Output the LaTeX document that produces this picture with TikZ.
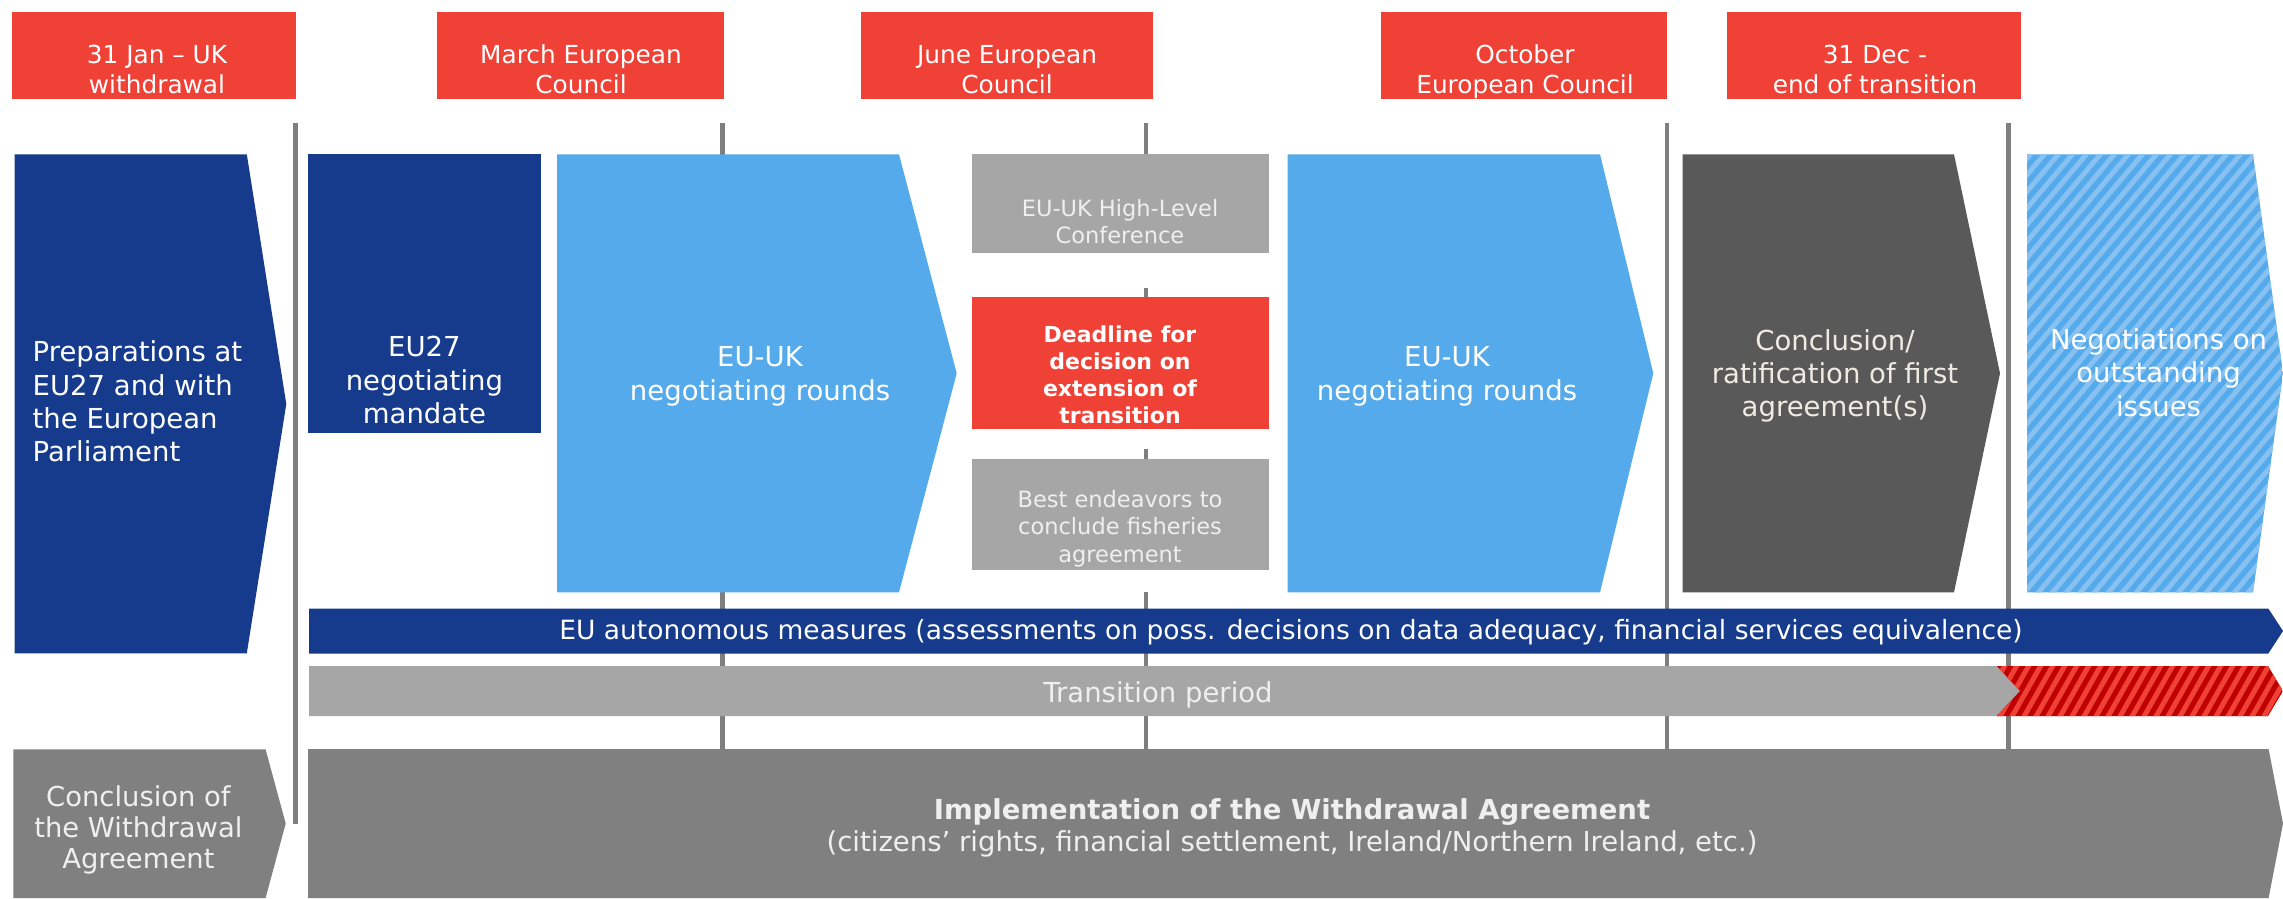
\documentclass[tikz,border=0pt]{standalone}
\usepackage{fontspec}
\setmainfont{DejaVu Sans}
\definecolor{eured}{HTML}{EF4136}
\definecolor{eublue}{HTML}{163B8C}
\definecolor{eulight}{HTML}{55AAEC}
\definecolor{eustripe}{HTML}{86C1F1}
\definecolor{midgray}{HTML}{A6A6A6}
\definecolor{darkgray}{HTML}{595959}
\definecolor{implgray}{HTML}{808080}
\definecolor{linegray}{HTML}{7F7F7F}
\definecolor{deepred}{HTML}{C00000}
\definecolor{warmwhite}{HTML}{F0EBE2}
\definecolor{lighttext}{HTML}{EFEFEF}
\begin{document}
\begin{tikzpicture}[x=1pt,y=-1pt,
  txt/.style={inner sep=0pt, align=center, anchor=base, text=white},
  big/.style={font=\fontsize{27.5}{33.3}\selectfont},
  hdr/.style={font=\fontsize{24.8}{30}\selectfont},
  small/.style={font=\fontsize{22.5}{27.5}\selectfont},
  vline/.style={draw=linegray, line width=4.5pt},
  hdrbox/.style={fill=eured}]
\useasboundingbox (0,0) rectangle (2283,898);

% ---- timeline lines (behind) ----
\coordinate (l1t) at (295.5,122.7); \coordinate (l1b) at (295.5,824.3);
\coordinate (l2t) at (722.5,122.7); \coordinate (l2b) at (722.5,749);
\coordinate (l4t) at (1667,122.7);  \coordinate (l4b) at (1667,749);
\coordinate (l5t) at (2008.3,122.7);\coordinate (l5b) at (2008.3,749);
\draw[vline] (l1t) -- (l1b);
\draw[vline] (l2t) -- (l2b);
\draw[vline] (l4t) -- (l4b);
\draw[vline] (l5t) -- (l5b);
\draw[vline] (1146,122.7) -- (1146,154.3);
\draw[vline] (1146,287.7) -- (1146,296.7);
\draw[vline] (1146,449) -- (1146,459.3);
\draw[vline] (1146,591.7) -- (1146,749);

% ---- header boxes ----
\fill[hdrbox] (11.7,11.7) rectangle (295.7,99.3);
\fill[hdrbox] (437,11.7) rectangle (723.6,99.3);
\fill[hdrbox] (861,11.7) rectangle (1152.6,99.3);
\fill[hdrbox] (1381,11.7) rectangle (1667.4,99.3);
\fill[hdrbox] (1727.3,11.7) rectangle (2021.2,99.3);
\node[txt,hdr] (h1) at (157,93.3) {31 Jan – UK\\withdrawal};
\node[txt,hdr] (h2) at (581,93.3) {March European\\Council};
\node[txt,hdr] (h3) at (1007,93.3) {June European\\Council};
\node[txt,hdr] (h4) at (1525,93.3) {October\\European Council};
\node[txt,hdr] (h5) at (1875,93.3) {31 Dec -\\end of transition};

% ---- preparations ----
\fill[eublue] (14.5,154.3) -- (246.8,154.3) -- (286.3,404) -- (246.8,653.3) -- (14.5,653.3) -- cycle;
\node[txt,big,align=left,anchor=base west] (prep) at (32.5,461.6) {Preparations at\\EU27 and with\\the European\\Parliament};

% ---- EU27 mandate ----
\fill[eublue] (308,154.3) rectangle (540.8,432.7);
\node[txt,big] (mand) at (424.4,423.5) {EU27\\negotiating\\mandate};

% ---- negotiating rounds 1 ----
\fill[eulight] (557,154.3) -- (899,154.3) -- (956.7,373.3) -- (899,592.3) -- (557,592.3) -- cycle;
\node[txt,big] (nr1) at (760,400) {EU-UK\\negotiating rounds};

% ---- June column ----
\fill[midgray] (971.7,154.3) rectangle (1269,252.7);
\node[txt,small,text=lighttext] (hlc) at (1120,243.5) {EU-UK High-Level\\Conference};
\fill[eured] (971.7,296.7) rectangle (1269,428.7);
\node[txt,font=\fontsize{22}{27.2}\selectfont\bfseries] (dl) at (1120,423.6) {Deadline for\\decision on\\extension of\\transition};
\fill[midgray] (971.7,459.3) rectangle (1269,570);
\node[txt,small,text=lighttext] (fish) at (1120,562) {Best endeavors to\\conclude fisheries\\agreement};

% ---- negotiating rounds 2 ----
\fill[eulight] (1287.5,154.3) -- (1600,154.3) -- (1653.3,373.3) -- (1600,592.3) -- (1287.5,592.3) -- cycle;
\node[txt,big] (nr2) at (1447,400) {EU-UK\\negotiating rounds};

% ---- conclusion / ratification ----
\fill[darkgray] (1682.7,154.3) -- (1954,154.3) -- (2000,373.3) -- (1954,592.3) -- (1682.7,592.3) -- cycle;
\node[txt,big,text=warmwhite] (rat) at (1835,416.6) {Conclusion/\\ratification of first\\agreement(s)};

% ---- hatched outstanding issues ----
\begin{scope}
\clip (2027,154.3) -- (2253,154.3) -- (2283,373.3) -- (2253,592.3) -- (2027,592.3) -- cycle;
\fill[eulight] (2000,140) rectangle (2290,600);
\foreach \x in {1640,1654,...,2300} \draw[eustripe, line width=5pt] (\x,600) -- ++(380,-450);
\end{scope}
\node[txt,big] (out) at (2158.5,416) {Negotiations on\\outstanding\\issues};

% ---- autonomous measures bar ----
\fill[eublue] (309,608.5) -- (2268.3,608.5) -- (2283,631) -- (2268.3,653.5) -- (309,653.5) -- cycle;
\node[txt,font=\fontsize{26.5}{32}\selectfont] (auto) at (1291,639.3) {EU autonomous measures (assessments on poss. decisions on data adequacy, financial services equivalence)};

% ---- transition bar ----
\fill[midgray] (309,666) -- (1996.7,666) -- (2020,691) -- (1996.7,716) -- (309,716) -- cycle;
\begin{scope}
\clip (1996.7,666) -- (2268,666) -- (2283,691) -- (2268,716) -- (1996.7,716) -- (2020,691) -- cycle;
\fill[deepred] (1990,660) rectangle (2290,720);
\foreach \x in {1950,1962,...,2300} \draw[eured, line width=5pt] (\x,720) -- ++(34,-60);
\end{scope}
\node[txt,big,text=lighttext] (trans) at (1158,702) {Transition period};

% ---- conclusion of WA ----
\fill[implgray] (13.4,749.3) -- (265.6,749.3) -- (285.7,823.5) -- (265.6,898) -- (13.4,898) -- cycle;
\node[txt,font=\fontsize{27.4}{31}\selectfont,text=lighttext] (cwa) at (138.4,868) {Conclusion of\\the Withdrawal\\Agreement};

% ---- implementation ----
\fill[implgray] (308,749) -- (2268.6,749) -- (2283,823.5) -- (2268.6,898) -- (308,898) -- cycle;
\node[txt,font=\fontsize{27.5}{32.4}\selectfont,text=lighttext] (impl) at (1292,851.7) {\textbf{Implementation of the Withdrawal Agreement}\\(citizens’ rights, financial settlement, Ireland/Northern Ireland, etc.)};
\end{tikzpicture}
\end{document}
